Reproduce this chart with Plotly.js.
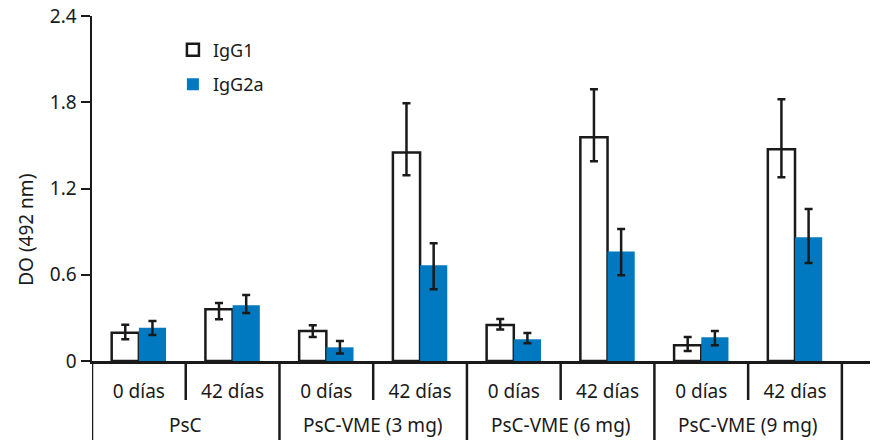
<!DOCTYPE html>
<html><head><meta charset="utf-8">
<script src="https://cdn.plot.ly/plotly-3.0.1.min.js"></script>
<style>body{margin:0;background:#fff}#c{width:878px;height:440px}</style>
</head><body><div id="c"></div>
<script>
const groupNames = ["PsC","PsC-VME (3 mg)","PsC-VME (6 mg)","PsC-VME (9 mg)"];
const groups = ["PsC","PsC","PsC-VME (3 mg)","PsC-VME (3 mg)","PsC-VME (6 mg)","PsC-VME (6 mg)","PsC-VME (9 mg)","PsC-VME (9 mg)"];
const days = ["0 días","42 días","0 días","42 días","0 días","42 días","0 días","42 días"];
const igg1 = [0.197, 0.36, 0.209, 1.45, 0.25, 1.556, 0.109, 1.473];
const igg1ErrPlus = [0.056, 0.044, 0.039, 0.343, 0.042, 0.334, 0.058, 0.348];
const igg1ErrMinus = [0.046, 0.070, 0.042, 0.158, 0.030, 0.167, 0.039, 0.195];
const igg2a = [0.232, 0.387, 0.095, 0.666, 0.151, 0.761, 0.165, 0.861];
const igg2aErrPlus = [0.046, 0.072, 0.044, 0.153, 0.044, 0.158, 0.044, 0.197];
const igg2aErrMinus = [0.051, 0.053, 0.042, 0.167, 0.028, 0.165, 0.056, 0.179];
const yTicks = [0, 0.6, 1.2, 1.8, 2.4];

const cats = groups.map((g, i) => g + " | " + days[i]);
const FONT = "Noto Sans, DejaVu Sans, sans-serif";
const INK = "#1a1a1a";
const errStyle = {type:"data", visible:true, symmetric:false, color:INK, thickness:2.5, width:4};
const traces = [
  {type:"bar", name:"IgG1", x:cats, y:igg1,
   error_y:Object.assign({array:igg1ErrPlus, arrayminus:igg1ErrMinus}, errStyle),
   marker:{color:"#ffffff", line:{color:INK, width:2.5}}, legendgroup:"a"},
  {type:"bar", name:"IgG2a", x:cats, y:igg2a,
   error_y:Object.assign({array:igg2aErrPlus, arrayminus:igg2aErrMinus}, errStyle),
   marker:{color:"#0079c1", line:{width:0}}, legendgroup:"b"}
];

// dividers below the axis, at category boundaries
const shapes = [];
const innerLow = -39/345, outerLow = -80/345;
for (let i = 0; i <= cats.length; i++) {
  const isOuter = (i === 0 || i === cats.length || groups[i] !== groups[i-1]);
  shapes.push({type:"line", xref:"x", yref:"paper", x0:i-0.5, x1:i-0.5,
               y0:0, y1:isOuter ? outerLow : innerLow,
               line:{color:INK, width:2.5}});
}
const annotations = groupNames.map(g => {
  const idx = groups.map((v,i)=>v===g?i:-1).filter(i=>i>=0);
  const mid = (idx[0] + idx[idx.length-1]) / 2;
  return {text:g, xref:"x", yref:"paper", x:mid, y:-(425-361)/345,
          xanchor:"center", yanchor:"middle", showarrow:false, font:{size:19, family:FONT, color:INK}};
});
annotations.push({text:"DO (492 nm)", xref:"paper", yref:"paper", x:-0.085, y:0.38,
                  xanchor:"center", yanchor:"middle",
                  textangle:-90, showarrow:false, font:{size:19, family:FONT, color:INK}});

const layout = {
  width:878, height:440,
  margin:{l:92, r:8, t:16, b:79},
  paper_bgcolor:"#fff", plot_bgcolor:"#fff",
  font:{family:FONT, color:INK, size:18},
  barmode:"group", bargap:0.42, bargroupgap:0,
  showlegend:true,
  legend:{x:0.104, y:0.955, xanchor:"left", yanchor:"top", bgcolor:"rgba(0,0,0,0)",
          font:{size:18, family:FONT}, tracegroupgap:8, traceorder:"grouped"},
  xaxis:{type:"category", range:[-0.5, 7.8], showline:true, linecolor:INK, linewidth:2.5,
         tickvals:cats, ticktext:days, ticks:"", ticklabelstandoff:12,
         tickfont:{size:19}, showgrid:false, zeroline:false},
  yaxis:{range:[0, 2.4], tickvals:yTicks, ticktext:yTicks.map(v=>String(v)),
         showline:true, linecolor:INK, linewidth:2.5,
         ticks:"outside", ticklen:9, tickwidth:2, tickcolor:INK,
         tickfont:{size:19}, showgrid:false, zeroline:false},
  shapes:shapes,
  annotations:annotations
};
Plotly.newPlot("c", traces, layout, {displayModeBar:false, staticPlot:true});
</script></body></html>
